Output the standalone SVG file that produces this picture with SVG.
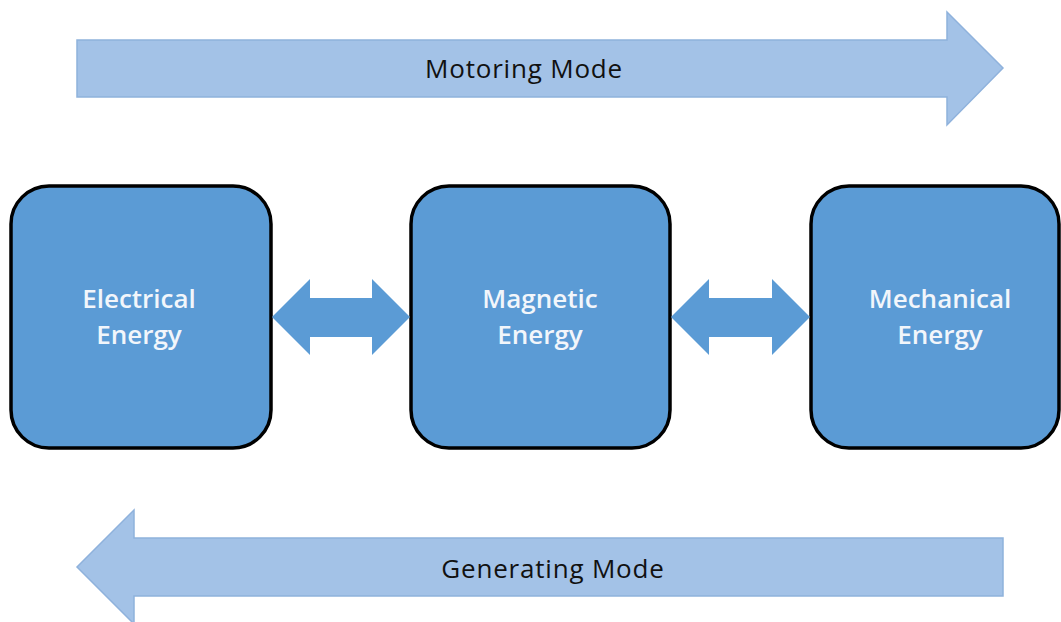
<svg xmlns="http://www.w3.org/2000/svg" width="1061" height="622" viewBox="0 0 1061 622">
  <style>
    .mode { fill: #a3c2e7; stroke: #8fb2dc; stroke-width: 1.5; }
    .box { fill: #5b9bd5; stroke: #000; stroke-width: 3.5; }
    .link { fill: #5b9bd5; stroke: none; }
    .boxtext { font-family: "Open Sans", Lato, sans-serif; font-size: 26px; font-weight: 600; fill: #f2f6fb; text-anchor: middle; }
    .modetext { font-family: "Open Sans", Lato, sans-serif; font-size: 26px; font-weight: 500; letter-spacing: 0.8px; fill: #111; text-anchor: middle; }
  </style>

  <rect width="1061" height="622" fill="#fff"/>

  <!-- direction banners -->
  <g id="motoring">
    <path class="mode" d="M77,40 H947 V12 L1003,68 L947,125 V97 H77 Z"/>
    <text class="modetext" x="524" y="78">Motoring Mode</text>
  </g>
  <g id="generating">
    <path class="mode" d="M1003,538 H134 V510 L77,567 L134,624 V596 H1003 Z"/>
    <text class="modetext" x="553" y="578">Generating Mode</text>
  </g>

  <!-- energy forms -->
  <g id="electrical">
    <rect class="box" x="11" y="186" width="260" height="262" rx="38"/>
    <text class="boxtext" x="139" y="308">Electrical</text>
    <text class="boxtext" x="139" y="344">Energy</text>
  </g>
  <g id="magnetic">
    <rect class="box" x="411" y="186" width="259" height="262" rx="38"/>
    <text class="boxtext" x="540" y="308">Magnetic</text>
    <text class="boxtext" x="540" y="344">Energy</text>
  </g>
  <g id="mechanical">
    <rect class="box" x="811" y="186" width="248" height="262" rx="38"/>
    <text class="boxtext" x="940" y="308">Mechanical</text>
    <text class="boxtext" x="940" y="344">Energy</text>
  </g>

  <!-- bidirectional conversions -->
  <g id="connectors">
    <path class="link" d="M272,317 L310,279 V298 H372 V279 L410,317 L372,355 V337 H310 V355 Z"/>
    <path class="link" d="M671,317 L709,279 V298 H772 V279 L810,317 L772,355 V337 H709 V355 Z"/>
  </g>
</svg>
